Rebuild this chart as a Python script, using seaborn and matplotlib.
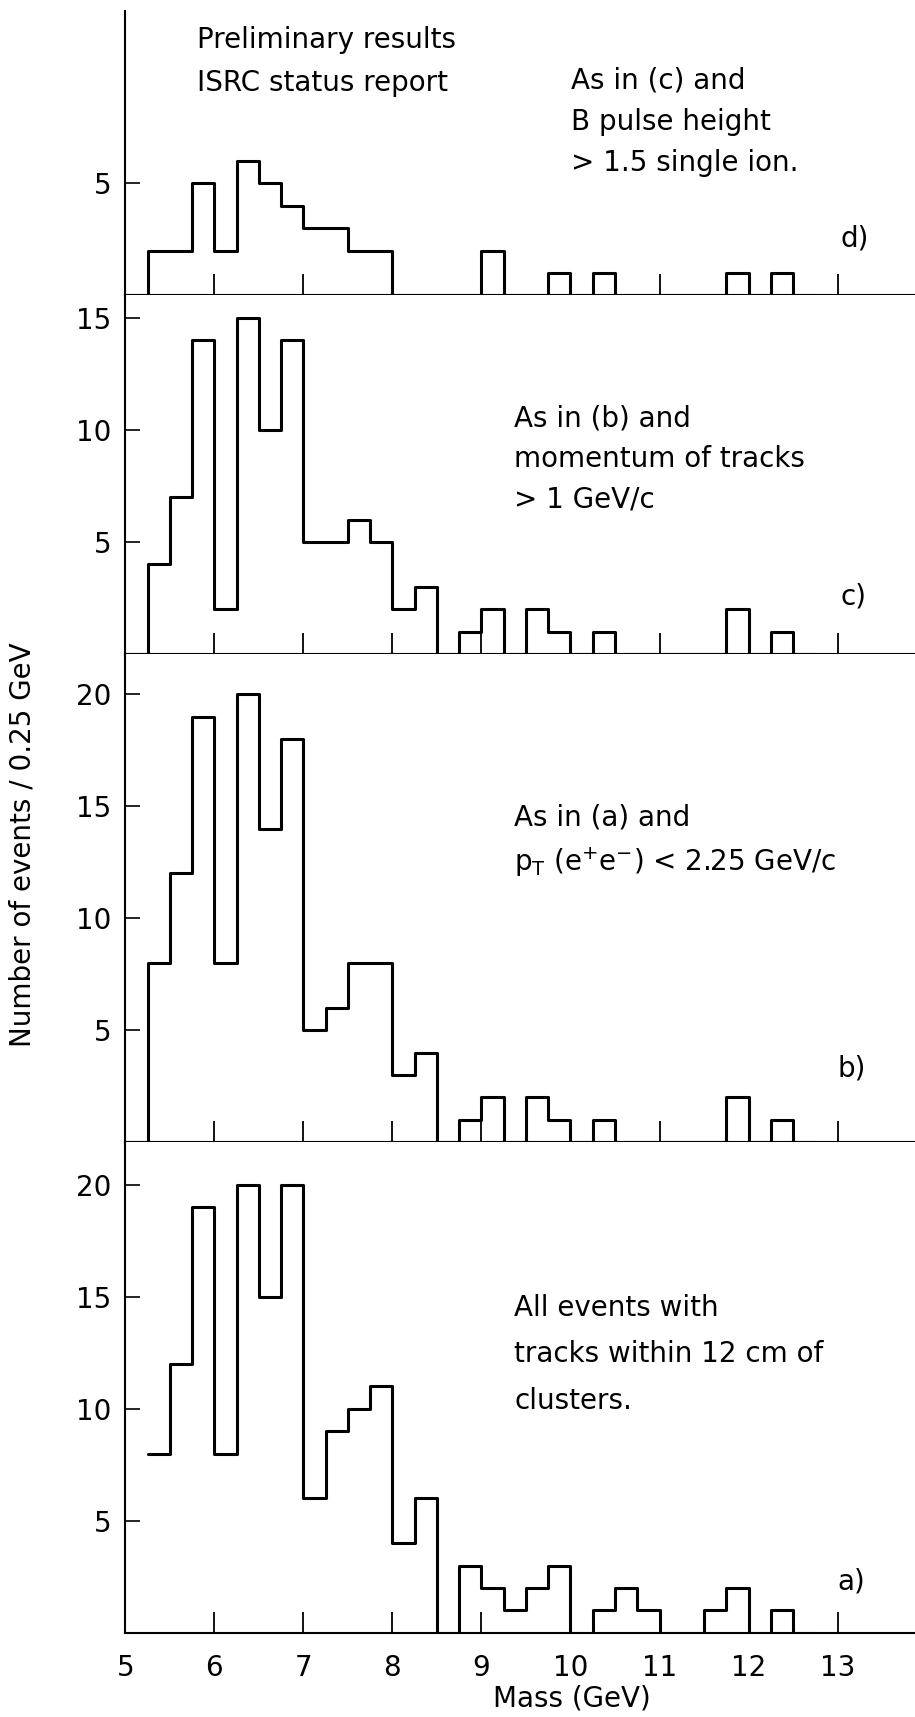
import numpy as np
import pandas as pd
import seaborn as sns
from matplotlib import pyplot as plt

# bin width of all histograms (GeV)
BIN = 0.25

# counts per 0.25 GeV bin
# a) all events, first bin starts at 5.25 GeV
start_a = 5.25
counts_a = [8, 12, 19, 8, 20, 15, 20, 6, 9, 10, 11, 4, 6, 0, 3, 2, 1, 2, 3, 0,
            1, 2, 1, 0, 0, 1, 2, 0, 1, 0]
# b), c), d) first bin starts at 5.0 GeV
start_b = 5.0
counts_b = [0, 8, 12, 19, 8, 20, 14, 18, 5, 6, 8, 8, 3, 4, 0, 1, 2, 0, 2, 1,
            0, 1, 0, 0, 0, 0, 0, 2, 0, 1, 0]
start_c = 5.0
counts_c = [0, 4, 7, 14, 2, 15, 10, 14, 5, 5, 6, 5, 2, 3, 0, 1, 2, 0, 2, 1,
            0, 1, 0, 0, 0, 0, 0, 2, 0, 1, 0]
start_d = 5.0
counts_d = [0, 2, 2, 5, 2, 6, 5, 4, 3, 3, 2, 2, 0, 0, 0, 0, 2, 0, 0, 1,
            0, 1, 0, 0, 0, 0, 0, 1, 0, 1, 0]

x_ticks = [5, 6, 7, 8, 9, 10, 11, 12, 13]
y_ticks_d = [5]
y_ticks_c = [5, 10, 15]
y_ticks_b = [5, 10, 15, 20]
y_ticks_a = [5, 10, 15, 20]

notes_d = ["As in (c) and", "B pulse height", "> 1.5 single ion."]
notes_c = ["As in (b) and", "momentum of tracks", "> 1 GeV/c"]
notes_b = ["As in (a) and", r"p$_\mathrm{T}$ (e$^{+}$e$^{-}$) < 2.25 GeV/c"]
notes_a = ["All events with", "tracks within 12 cm of", "clusters."]

sns.set_style("white")
plt.rcParams['font.family'] = ['DejaVu Sans']
plt.rcParams['mathtext.default'] = 'regular'
plt.rcParams['text.color'] = 'black'

FS = 20
LW = 2.2

fig, axes = plt.subplots(4, 1, figsize=(9.15, 17.17), dpi=100, sharex=True,
                         gridspec_kw=dict(height_ratios=[12.7, 16, 21.8, 21.9], hspace=0))
fig.subplots_adjust(left=0.137, right=1.0, bottom=0.049, top=0.9936)

panels = [
    (axes[0], start_d, counts_d, y_ticks_d, 12.7),
    (axes[1], start_c, counts_c, y_ticks_c, 16),
    (axes[2], start_b, counts_b, y_ticks_b, 21.8),
    (axes[3], start_a, counts_a, y_ticks_a, 21.9),
]

for ax, start, counts, yt, ymax in panels:
    n_bins = len(counts)
    df = pd.DataFrame({'mass': start + BIN * (np.arange(n_bins) + 0.5),
                       'n': counts})
    sns.histplot(data=df, x='mass', weights='n', binwidth=BIN,
                 binrange=(start, start + BIN * n_bins), element='step',
                 fill=False, color='black', linewidth=LW, ax=ax)
    ax.set_xlim(5, 13.87)
    ax.set_ylim(0, ymax)
    ax.set_xticks(x_ticks)
    ax.set_yticks(yt)
    ax.set_xlabel('')
    ax.set_ylabel('')
    for s in ['top', 'right']:
        ax.spines[s].set_visible(False)
    for s in ['left', 'bottom']:
        ax.spines[s].set_color('black')
        ax.spines[s].set_linewidth(1.5)
    ax.tick_params(axis='x', bottom=True, direction='in', length=15, width=1.3,
                   pad=15, labelsize=FS, colors='black')
    ax.tick_params(axis='y', left=True, direction='in', length=11, width=1.2,
                   pad=10, labelsize=FS, colors='black')

ax_d, ax_c, ax_b, ax_a = axes

ax_d.text(5.80, 11.4, "Preliminary results", fontsize=FS, va='center')
ax_d.text(5.80, 9.5, "ISRC status report", fontsize=FS, va='center')
for txt, y in zip(notes_d, [9.6, 7.75, 5.9]):
    ax_d.text(10.01, y, txt, fontsize=FS, va='center')
ax_d.text(13.03, 2.55, "d)", fontsize=FS, va='center')

for txt, y in zip(notes_c, [10.5, 8.7, 6.9]):
    ax_c.text(9.37, y, txt, fontsize=FS, va='center')
ax_c.text(13.03, 2.55, "c)", fontsize=FS, va='center')

for txt, y in zip(notes_b, [14.5, 12.5]):
    ax_b.text(9.37, y, txt, fontsize=FS, va='center')
ax_b.text(13.0, 3.3, "b)", fontsize=FS, va='center')

for txt, y in zip(notes_a, [14.5, 12.45, 10.35]):
    ax_a.text(9.37, y, txt, fontsize=FS, va='center')
ax_a.text(13.0, 2.3, "a)", fontsize=FS, va='center')

fig.text(0.025, 0.508, "Number of events / 0.25 GeV", rotation=90,
         fontsize=FS, ha='center', va='center')
fig.text(0.625, 0.0105, "Mass (GeV)", fontsize=FS, ha='center', va='center')

plt.savefig('out.png', dpi=100)
